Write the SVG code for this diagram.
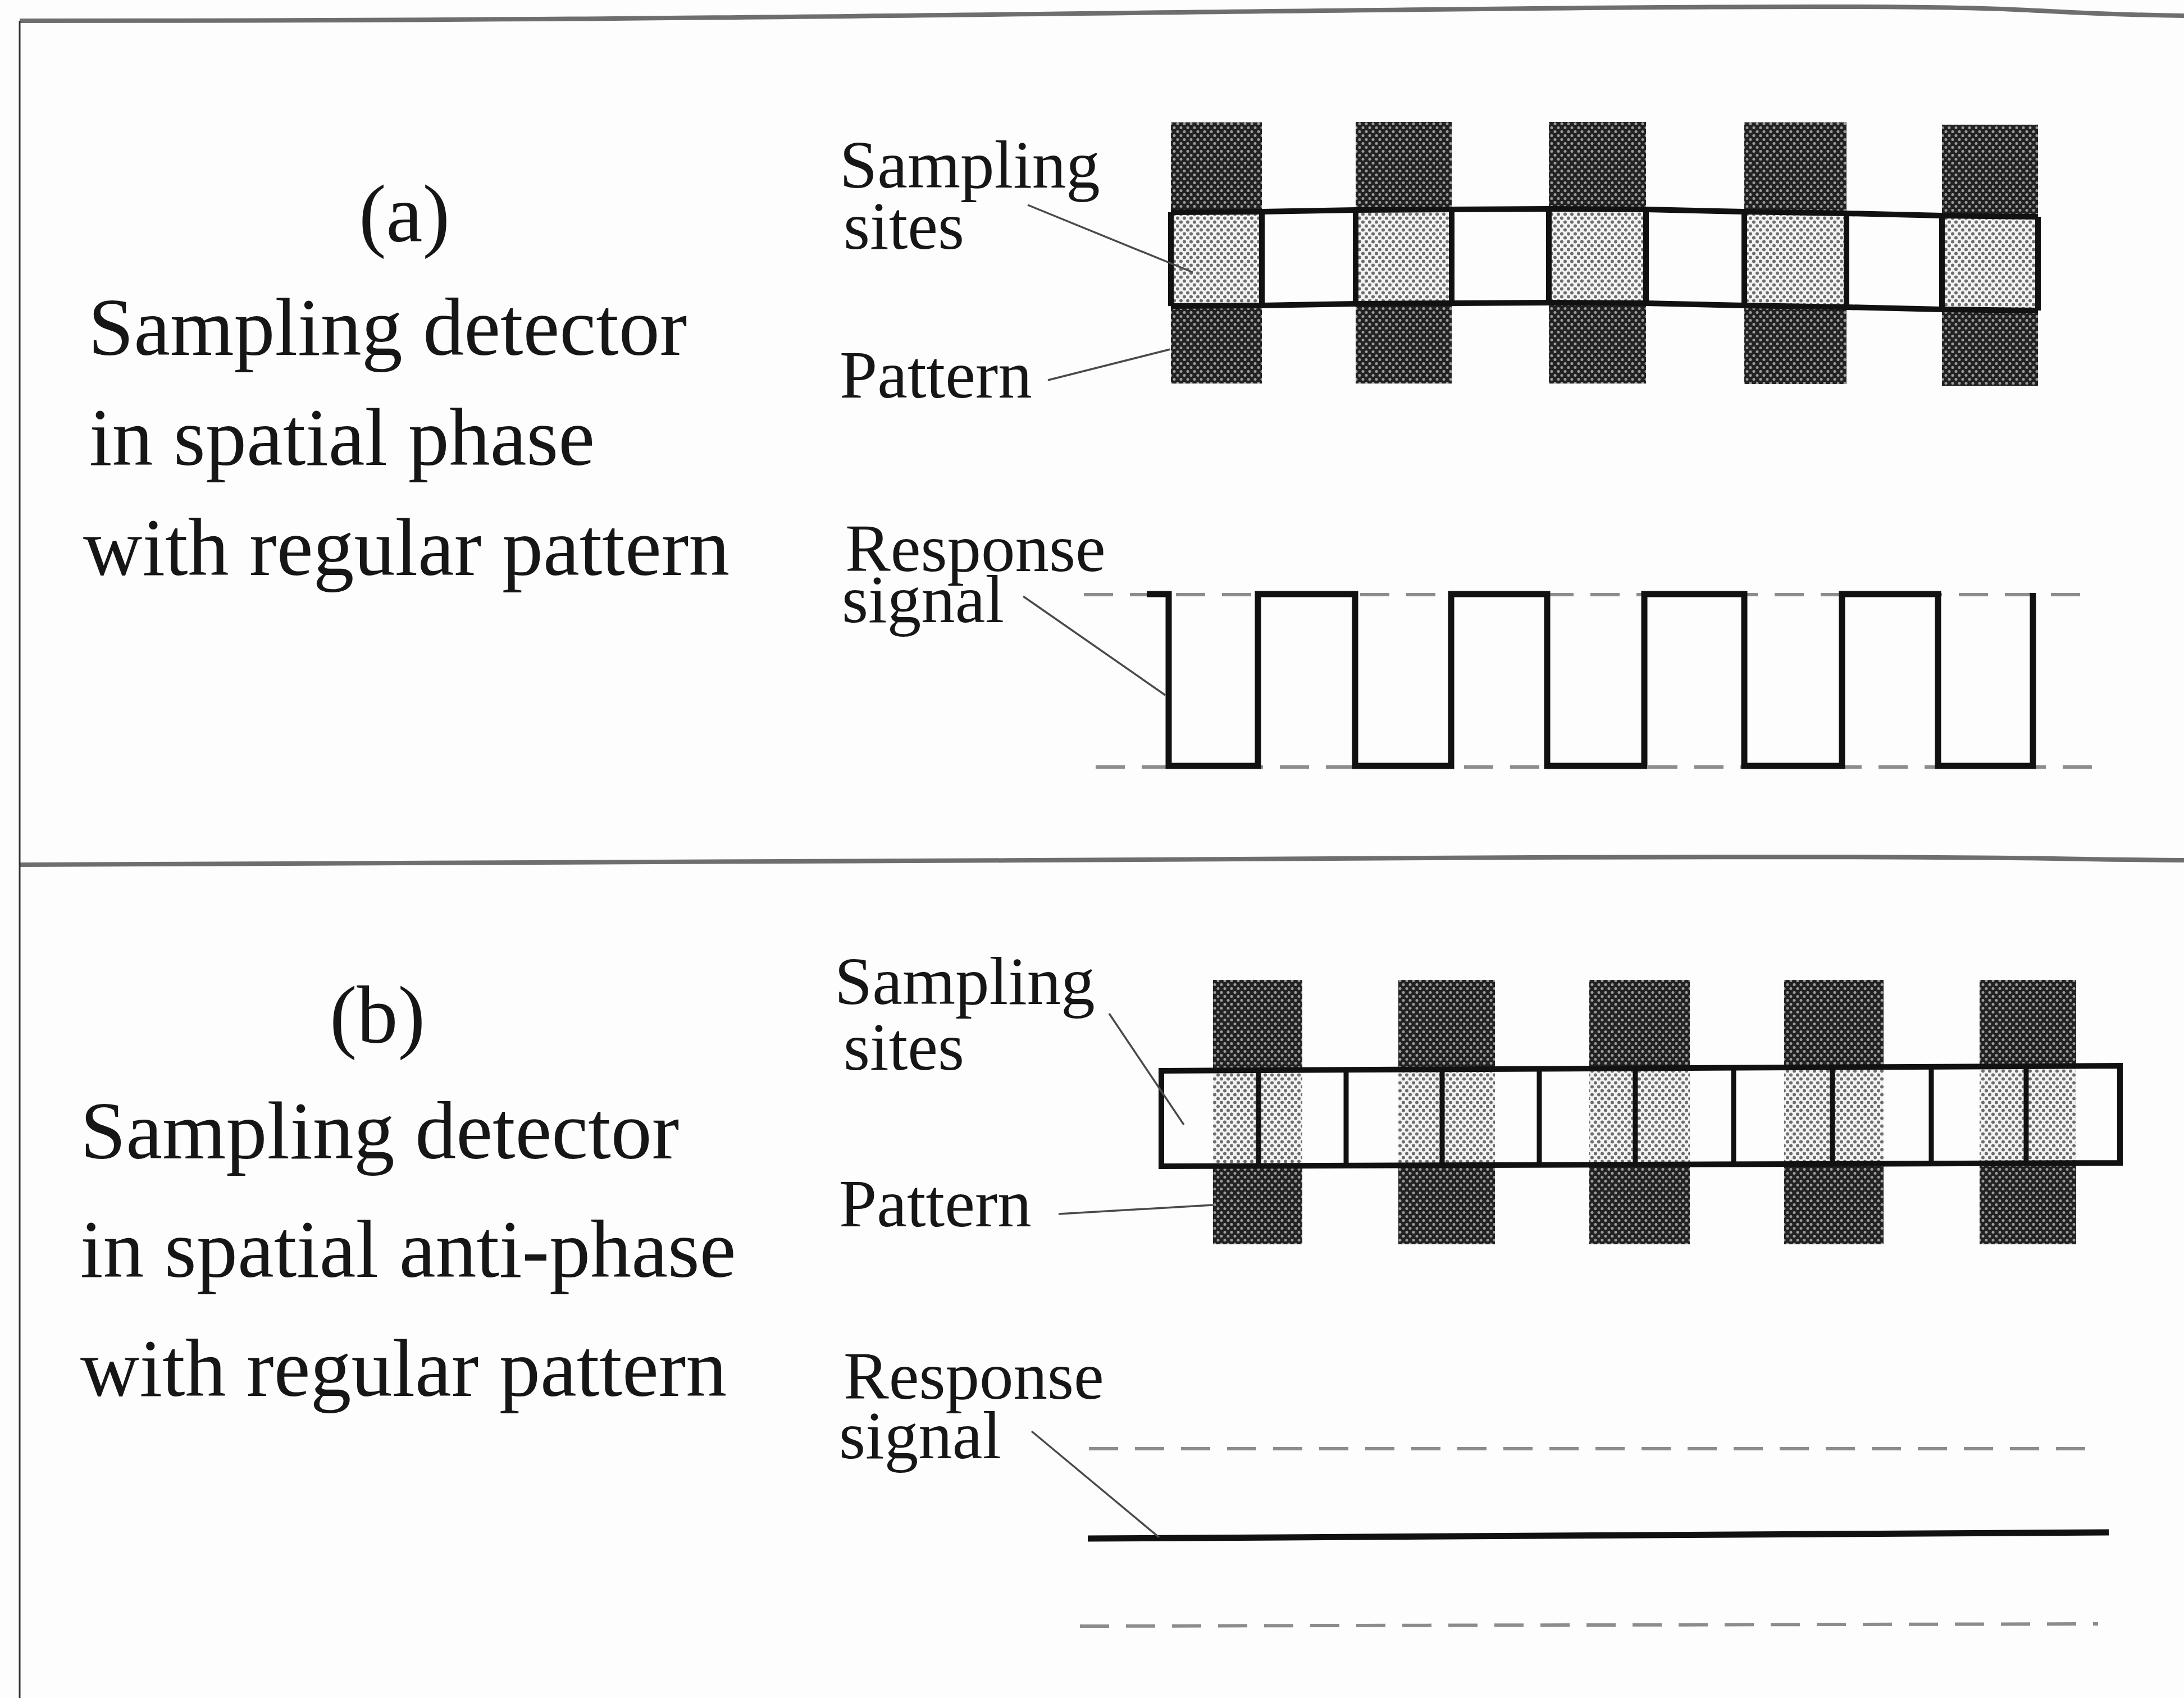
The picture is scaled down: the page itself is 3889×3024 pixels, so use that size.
<svg xmlns="http://www.w3.org/2000/svg" width="3889" height="3024" viewBox="0 0 3889 3024">
  <style>
    .big { font-family: "Liberation Serif", "Times New Roman", serif; font-size: 146px; fill: #161616; }
    .lbl { font-family: "Liberation Serif", "Times New Roman", serif; font-size: 121px; fill: #161616; }
    .frame { fill: none; stroke: #6e6e6e; stroke-width: 8; }
    .edge { fill: none; stroke: #333; stroke-width: 3; }
    .outline { fill: none; stroke: #111; stroke-width: 10; stroke-linejoin: miter; }
    .divider { stroke: #111; stroke-width: 9; }
    .leader { fill: none; stroke: #4a4a4a; stroke-width: 3.5; }
    .level { fill: none; stroke: #8c8c8c; stroke-width: 6; stroke-dasharray: 52 30; }
    .signal { fill: none; stroke: #111; stroke-width: 11; stroke-linejoin: miter; }
    .bar { fill: url(#darkDots); }
    .site { fill: url(#lightDots); }
  </style>
  <defs>
    <!-- halftone screens: dense dark dots for the pattern bars, light dots for the sampling sites -->
    <pattern id="darkDots" width="12" height="14" patternUnits="userSpaceOnUse">
      <rect width="12" height="14" fill="#222"/>
      <circle cx="3" cy="3.5" r="2.5" fill="#9c9c9c"/>
      <circle cx="9" cy="10.5" r="2.5" fill="#9c9c9c"/>
    </pattern>
    <pattern id="lightDots" width="12" height="14" patternUnits="userSpaceOnUse">
      <rect width="12" height="14" fill="#f3f3f3"/>
      <circle cx="3" cy="3.5" r="3" fill="#6c6c6c"/>
      <circle cx="9" cy="10.5" r="3" fill="#6c6c6c"/>
    </pattern>
  </defs>

  <rect width="3889" height="3024" fill="#fdfdfd"/>

  <!-- page frame and panel divider -->
  <g id="frame">
    <path class="frame" d="M35 37 C1200 37 1700 25 2730 15 S3500 22 3889 28"/>
    <path class="frame" d="M35 1540 C1200 1540 1800 1530 2730 1527 S3600 1530 3889 1532"/>
    <path class="edge" d="M35 37 L35 3024"/>
  </g>

  <!-- ===== panel (a) ===== -->
  <g id="caption-a">
    <text class="big" x="720" y="430" text-anchor="middle">(a)</text>
    <text class="big" x="157" y="632">Sampling detector</text>
    <text class="big" x="159" y="828">in spatial phase</text>
    <text class="big" x="148" y="1024">with regular pattern</text>
  </g>

  <g id="pattern-a">
    <rect class="bar" x="2085" y="218" width="162" height="465"/>
    <rect class="bar" x="2414" y="217" width="171" height="466"/>
    <rect class="bar" x="2758" y="217" width="173" height="466"/>
    <rect class="bar" x="3106" y="218" width="182" height="466"/>
    <rect class="bar" x="3458" y="222" width="171" height="465"/>
  </g>

  <g id="detector-a">
    <path class="site" d="M2085 378 L2247 377 L2247 544 L2085 545 Z"/>
    <path class="site" d="M2414 374 L2585 373 L2585 540 L2414 541 Z"/>
    <path class="site" d="M2758 372 L2931 373 L2931 540 L2758 539 Z"/>
    <path class="site" d="M3106 377 L3288 380 L3288 547 L3106 544 Z"/>
    <path class="site" d="M3458 384 L3629 386 L3629 553 L3458 551 Z"/>
    <path class="outline" d="M2085 378 L2247 377 L2414 374 L2585 373 L2758 372 L2931 373 L3106 377 L3288 380 L3458 384 L3629 386"/>
    <path class="outline" d="M2085 545 L2247 544 L2414 541 L2585 540 L2758 539 L2931 540 L3106 544 L3288 547 L3458 551 L3629 553"/>
    <path class="outline" d="M2085 378 L2085 545 M2247 377 L2247 544 M2414 374 L2414 541 M2585 373 L2585 540 M2758 372 L2758 539 M2931 373 L2931 540 M3106 377 L3106 544 M3288 380 L3288 547 M3458 384 L3458 551 M3629 386 L3629 553"/>
  </g>

  <g id="signal-a">
    <path class="level" d="M1930 1059 L3728 1059"/>
    <path class="level" d="M1951 1366 L3728 1366"/>
    <path class="signal" d="M2042 1058 L2081 1058 L2081 1364 L2240 1364 L2240 1058 L2413 1058 L2413 1364 L2584 1364 L2584 1058 L2755 1058 L2755 1364 L2928 1364 L2928 1058 L3106 1058 L3106 1364 L3280 1364 L3280 1058 L3451 1058 L3451 1364 L3620 1364 L3620 1056"/>
  </g>

  <g id="labels-a">
    <text class="lbl" x="1495" y="334">Sampling</text>
    <text class="lbl" x="1502" y="443">sites</text>
    <text class="lbl" x="1495" y="708">Pattern</text>
    <text class="lbl" x="1505" y="1017">Response</text>
    <text class="lbl" x="1499" y="1108">signal</text>
  </g>

  <!-- ===== panel (b) ===== -->
  <g id="caption-b">
    <text class="big" x="672" y="1857" text-anchor="middle">(b)</text>
    <text class="big" x="143" y="2063">Sampling detector</text>
    <text class="big" x="143" y="2274">in spatial anti-phase</text>
    <text class="big" x="143" y="2486">with regular pattern</text>
  </g>

  <g id="pattern-b">
    <rect class="bar" x="2160" y="1745" width="159" height="471"/>
    <rect class="bar" x="2490" y="1745" width="172" height="471"/>
    <rect class="bar" x="2830" y="1745" width="179" height="471"/>
    <rect class="bar" x="3177" y="1745" width="177" height="471"/>
    <rect class="bar" x="3525" y="1745" width="172" height="471"/>
  </g>

  <g id="detector-b">
    <!-- strip of half-period sampling sites, each bar split between two sites -->
    <path d="M2068 1907 L3775 1898 L3775 2071 L2068 2077 Z" fill="#fdfdfd"/>
    <rect class="site" x="2160" y="1906" width="159" height="170"/>
    <rect class="site" x="2490" y="1904" width="172" height="170"/>
    <rect class="site" x="2830" y="1902" width="179" height="171"/>
    <rect class="site" x="3177" y="1901" width="177" height="171"/>
    <rect class="site" x="3525" y="1899" width="172" height="172"/>
    <path class="outline" d="M2068 1907 L3775 1898 L3775 2071 L2068 2077 Z"/>
    <path class="divider" d="M2241 1906 L2241 2077 M2397 1906 L2397 2076 M2568 1905 L2568 2075 M2741 1904 L2741 2075 M2912 1903 L2912 2074 M3087 1902 L3087 2074 M3263 1901 L3263 2073 M3439 1900 L3439 2072 M3608 1899 L3608 2072"/>
  </g>

  <g id="signal-b">
    <path class="level" d="M1939 2580 L3736 2580"/>
    <path class="level" d="M1923 2896 L3736 2892"/>
    <path class="signal" d="M1937 2740 L3755 2729" stroke-width="13"/>
  </g>

  <g id="labels-b">
    <text class="lbl" x="1486" y="1788">Sampling</text>
    <text class="lbl" x="1502" y="1905">sites</text>
    <text class="lbl" x="1494" y="2184">Pattern</text>
    <text class="lbl" x="1502" y="2491">Response</text>
    <text class="lbl" x="1494" y="2597">signal</text>
  </g>

  <!-- leader lines from labels to the parts they name -->
  <g id="connectors">
    <path class="leader" d="M1830 365 L2124 485"/>
    <path class="leader" d="M1866 677 L2084 622"/>
    <path class="leader" d="M1822 1062 L2075 1238"/>
    <path class="leader" d="M1975 1805 L2108 2003"/>
    <path class="leader" d="M1885 2162 L2160 2146"/>
    <path class="leader" d="M1837 2549 L2064 2738"/>
  </g>
</svg>
